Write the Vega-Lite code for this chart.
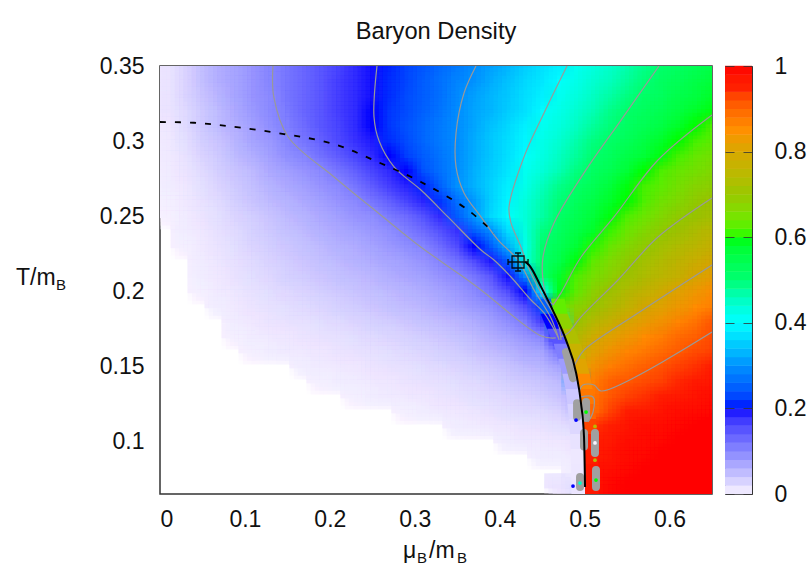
{"$schema":"https://vega.github.io/schema/vega-lite/v6.json","background":"white","padding":{"left":15,"top":19,"right":0,"bottom":0},"spacing":11,
"datasets":{"cells":[
{"x":0.01,"y":0.35,"v":0.01},{"x":0.03,"y":0.35,"v":0.025},{"x":0.05,"y":0.35,"v":0.045},{"x":0.07,"y":0.35,"v":0.06},{"x":0.09,"y":0.35,"v":0.07},{"x":0.11,"y":0.35,"v":0.085},{"x":0.13,"y":0.35,"v":0.1},{"x":0.15,"y":0.35,"v":0.115},{"x":0.17,"y":0.35,"v":0.13},{"x":0.19,"y":0.35,"v":0.145},{"x":0.21,"y":0.35,"v":0.16},{"x":0.23,"y":0.35,"v":0.18},{"x":0.25,"y":0.35,"v":0.195},{"x":0.27,"y":0.35,"v":0.21},{"x":0.29,"y":0.35,"v":0.23},{"x":0.31,"y":0.35,"v":0.245},{"x":0.33,"y":0.35,"v":0.265},{"x":0.35,"y":0.35,"v":0.28},{"x":0.37,"y":0.35,"v":0.3},{"x":0.39,"y":0.35,"v":0.315},{"x":0.41,"y":0.35,"v":0.335},{"x":0.43,"y":0.35,"v":0.355},{"x":0.45,"y":0.35,"v":0.375},{"x":0.47,"y":0.35,"v":0.39},{"x":0.49,"y":0.35,"v":0.41},{"x":0.51,"y":0.35,"v":0.43},{"x":0.53,"y":0.35,"v":0.445},{"x":0.55,"y":0.35,"v":0.465},{"x":0.57,"y":0.35,"v":0.485},{"x":0.59,"y":0.35,"v":0.5},{"x":0.61,"y":0.35,"v":0.52},{"x":0.63,"y":0.35,"v":0.535},{"x":0.65,"y":0.35,"v":0.55},
{"x":0.01,"y":0.34,"v":0.01},{"x":0.03,"y":0.34,"v":0.025},{"x":0.05,"y":0.34,"v":0.045},{"x":0.07,"y":0.34,"v":0.06},{"x":0.09,"y":0.34,"v":0.07},{"x":0.11,"y":0.34,"v":0.085},{"x":0.13,"y":0.34,"v":0.1},{"x":0.15,"y":0.34,"v":0.115},{"x":0.17,"y":0.34,"v":0.13},{"x":0.19,"y":0.34,"v":0.145},{"x":0.21,"y":0.34,"v":0.165},{"x":0.23,"y":0.34,"v":0.18},{"x":0.25,"y":0.34,"v":0.195},{"x":0.27,"y":0.34,"v":0.215},{"x":0.29,"y":0.34,"v":0.23},{"x":0.31,"y":0.34,"v":0.25},{"x":0.33,"y":0.34,"v":0.27},{"x":0.35,"y":0.34,"v":0.29},{"x":0.37,"y":0.34,"v":0.305},{"x":0.39,"y":0.34,"v":0.325},{"x":0.41,"y":0.34,"v":0.345},{"x":0.43,"y":0.34,"v":0.365},{"x":0.45,"y":0.34,"v":0.38},{"x":0.47,"y":0.34,"v":0.4},{"x":0.49,"y":0.34,"v":0.42},{"x":0.51,"y":0.34,"v":0.44},{"x":0.53,"y":0.34,"v":0.455},{"x":0.55,"y":0.34,"v":0.475},{"x":0.57,"y":0.34,"v":0.495},{"x":0.59,"y":0.34,"v":0.515},{"x":0.61,"y":0.34,"v":0.53},{"x":0.63,"y":0.34,"v":0.55},{"x":0.65,"y":0.34,"v":0.565},
{"x":0.01,"y":0.33,"v":0.01},{"x":0.03,"y":0.33,"v":0.025},{"x":0.05,"y":0.33,"v":0.04},{"x":0.07,"y":0.33,"v":0.055},{"x":0.09,"y":0.33,"v":0.07},{"x":0.11,"y":0.33,"v":0.085},{"x":0.13,"y":0.33,"v":0.095},{"x":0.15,"y":0.33,"v":0.115},{"x":0.17,"y":0.33,"v":0.13},{"x":0.19,"y":0.33,"v":0.145},{"x":0.21,"y":0.33,"v":0.165},{"x":0.23,"y":0.33,"v":0.18},{"x":0.25,"y":0.33,"v":0.195},{"x":0.27,"y":0.33,"v":0.215},{"x":0.29,"y":0.33,"v":0.235},{"x":0.31,"y":0.33,"v":0.25},{"x":0.33,"y":0.33,"v":0.27},{"x":0.35,"y":0.33,"v":0.295},{"x":0.37,"y":0.33,"v":0.315},{"x":0.39,"y":0.33,"v":0.335},{"x":0.41,"y":0.33,"v":0.35},{"x":0.43,"y":0.33,"v":0.37},{"x":0.45,"y":0.33,"v":0.39},{"x":0.47,"y":0.33,"v":0.41},{"x":0.49,"y":0.33,"v":0.43},{"x":0.51,"y":0.33,"v":0.45},{"x":0.53,"y":0.33,"v":0.47},{"x":0.55,"y":0.33,"v":0.49},{"x":0.57,"y":0.33,"v":0.51},{"x":0.59,"y":0.33,"v":0.525},{"x":0.61,"y":0.33,"v":0.545},{"x":0.63,"y":0.33,"v":0.56},{"x":0.65,"y":0.33,"v":0.58},
{"x":0.01,"y":0.32,"v":0.01},{"x":0.03,"y":0.32,"v":0.02},{"x":0.05,"y":0.32,"v":0.035},{"x":0.07,"y":0.32,"v":0.05},{"x":0.09,"y":0.32,"v":0.065},{"x":0.11,"y":0.32,"v":0.08},{"x":0.13,"y":0.32,"v":0.095},{"x":0.15,"y":0.32,"v":0.11},{"x":0.17,"y":0.32,"v":0.13},{"x":0.19,"y":0.32,"v":0.145},{"x":0.21,"y":0.32,"v":0.165},{"x":0.23,"y":0.32,"v":0.18},{"x":0.25,"y":0.32,"v":0.2},{"x":0.27,"y":0.32,"v":0.22},{"x":0.29,"y":0.32,"v":0.235},{"x":0.31,"y":0.32,"v":0.255},{"x":0.33,"y":0.32,"v":0.275},{"x":0.35,"y":0.32,"v":0.3},{"x":0.37,"y":0.32,"v":0.32},{"x":0.39,"y":0.32,"v":0.335},{"x":0.41,"y":0.32,"v":0.355},{"x":0.43,"y":0.32,"v":0.375},{"x":0.45,"y":0.32,"v":0.4},{"x":0.47,"y":0.32,"v":0.42},{"x":0.49,"y":0.32,"v":0.44},{"x":0.51,"y":0.32,"v":0.46},{"x":0.53,"y":0.32,"v":0.485},{"x":0.55,"y":0.32,"v":0.505},{"x":0.57,"y":0.32,"v":0.525},{"x":0.59,"y":0.32,"v":0.54},{"x":0.61,"y":0.32,"v":0.56},{"x":0.63,"y":0.32,"v":0.58},{"x":0.65,"y":0.32,"v":0.595},
{"x":0.01,"y":0.31,"v":0.008},{"x":0.03,"y":0.31,"v":0.02},{"x":0.05,"y":0.31,"v":0.035},{"x":0.07,"y":0.31,"v":0.05},{"x":0.09,"y":0.31,"v":0.06},{"x":0.11,"y":0.31,"v":0.075},{"x":0.13,"y":0.31,"v":0.09},{"x":0.15,"y":0.31,"v":0.105},{"x":0.17,"y":0.31,"v":0.125},{"x":0.19,"y":0.31,"v":0.145},{"x":0.21,"y":0.31,"v":0.16},{"x":0.23,"y":0.31,"v":0.18},{"x":0.25,"y":0.31,"v":0.2},{"x":0.27,"y":0.31,"v":0.22},{"x":0.29,"y":0.31,"v":0.24},{"x":0.31,"y":0.31,"v":0.26},{"x":0.33,"y":0.31,"v":0.28},{"x":0.35,"y":0.31,"v":0.3},{"x":0.37,"y":0.31,"v":0.32},{"x":0.39,"y":0.31,"v":0.345},{"x":0.41,"y":0.31,"v":0.365},{"x":0.43,"y":0.31,"v":0.39},{"x":0.45,"y":0.31,"v":0.41},{"x":0.47,"y":0.31,"v":0.43},{"x":0.49,"y":0.31,"v":0.45},{"x":0.51,"y":0.31,"v":0.475},{"x":0.53,"y":0.31,"v":0.495},{"x":0.55,"y":0.31,"v":0.515},{"x":0.57,"y":0.31,"v":0.535},{"x":0.59,"y":0.31,"v":0.555},{"x":0.61,"y":0.31,"v":0.58},{"x":0.63,"y":0.31,"v":0.6},{"x":0.65,"y":0.31,"v":0.62},
{"x":0.01,"y":0.3,"v":0.006},{"x":0.03,"y":0.3,"v":0.015},{"x":0.05,"y":0.3,"v":0.03},{"x":0.07,"y":0.3,"v":0.04},{"x":0.09,"y":0.3,"v":0.055},{"x":0.11,"y":0.3,"v":0.07},{"x":0.13,"y":0.3,"v":0.08},{"x":0.15,"y":0.3,"v":0.1},{"x":0.17,"y":0.3,"v":0.115},{"x":0.19,"y":0.3,"v":0.135},{"x":0.21,"y":0.3,"v":0.155},{"x":0.23,"y":0.3,"v":0.175},{"x":0.25,"y":0.3,"v":0.19},{"x":0.27,"y":0.3,"v":0.215},{"x":0.29,"y":0.3,"v":0.235},{"x":0.31,"y":0.3,"v":0.26},{"x":0.33,"y":0.3,"v":0.28},{"x":0.35,"y":0.3,"v":0.3},{"x":0.37,"y":0.3,"v":0.325},{"x":0.39,"y":0.3,"v":0.35},{"x":0.41,"y":0.3,"v":0.37},{"x":0.43,"y":0.3,"v":0.395},{"x":0.45,"y":0.3,"v":0.42},{"x":0.47,"y":0.3,"v":0.44},{"x":0.49,"y":0.3,"v":0.465},{"x":0.51,"y":0.3,"v":0.49},{"x":0.53,"y":0.3,"v":0.51},{"x":0.55,"y":0.3,"v":0.53},{"x":0.57,"y":0.3,"v":0.555},{"x":0.59,"y":0.3,"v":0.58},{"x":0.61,"y":0.3,"v":0.6},{"x":0.63,"y":0.3,"v":0.615},{"x":0.65,"y":0.3,"v":0.63},
{"x":0.01,"y":0.29,"v":0.005},{"x":0.03,"y":0.29,"v":0.012},{"x":0.05,"y":0.29,"v":0.025},{"x":0.07,"y":0.29,"v":0.035},{"x":0.09,"y":0.29,"v":0.05},{"x":0.11,"y":0.29,"v":0.06},{"x":0.13,"y":0.29,"v":0.075},{"x":0.15,"y":0.29,"v":0.09},{"x":0.17,"y":0.29,"v":0.1},{"x":0.19,"y":0.29,"v":0.12},{"x":0.21,"y":0.29,"v":0.14},{"x":0.23,"y":0.29,"v":0.16},{"x":0.25,"y":0.29,"v":0.18},{"x":0.27,"y":0.29,"v":0.2},{"x":0.29,"y":0.29,"v":0.225},{"x":0.31,"y":0.29,"v":0.25},{"x":0.33,"y":0.29,"v":0.275},{"x":0.35,"y":0.29,"v":0.3},{"x":0.37,"y":0.29,"v":0.325},{"x":0.39,"y":0.29,"v":0.35},{"x":0.41,"y":0.29,"v":0.375},{"x":0.43,"y":0.29,"v":0.4},{"x":0.45,"y":0.29,"v":0.425},{"x":0.47,"y":0.29,"v":0.45},{"x":0.49,"y":0.29,"v":0.475},{"x":0.51,"y":0.29,"v":0.5},{"x":0.53,"y":0.29,"v":0.525},{"x":0.55,"y":0.29,"v":0.55},{"x":0.57,"y":0.29,"v":0.57},{"x":0.59,"y":0.29,"v":0.595},{"x":0.61,"y":0.29,"v":0.615},{"x":0.63,"y":0.29,"v":0.635},{"x":0.65,"y":0.29,"v":0.65},
{"x":0.01,"y":0.28,"v":0.004},{"x":0.03,"y":0.28,"v":0.01},{"x":0.05,"y":0.28,"v":0.02},{"x":0.07,"y":0.28,"v":0.03},{"x":0.09,"y":0.28,"v":0.04},{"x":0.11,"y":0.28,"v":0.05},{"x":0.13,"y":0.28,"v":0.065},{"x":0.15,"y":0.28,"v":0.075},{"x":0.17,"y":0.28,"v":0.085},{"x":0.19,"y":0.28,"v":0.095},{"x":0.21,"y":0.28,"v":0.115},{"x":0.23,"y":0.28,"v":0.135},{"x":0.25,"y":0.28,"v":0.16},{"x":0.27,"y":0.28,"v":0.18},{"x":0.29,"y":0.28,"v":0.2},{"x":0.31,"y":0.28,"v":0.24},{"x":0.33,"y":0.28,"v":0.27},{"x":0.35,"y":0.28,"v":0.3},{"x":0.37,"y":0.28,"v":0.33},{"x":0.39,"y":0.28,"v":0.355},{"x":0.41,"y":0.28,"v":0.38},{"x":0.43,"y":0.28,"v":0.41},{"x":0.45,"y":0.28,"v":0.435},{"x":0.47,"y":0.28,"v":0.46},{"x":0.49,"y":0.28,"v":0.49},{"x":0.51,"y":0.28,"v":0.515},{"x":0.53,"y":0.28,"v":0.54},{"x":0.55,"y":0.28,"v":0.57},{"x":0.57,"y":0.28,"v":0.6},{"x":0.59,"y":0.28,"v":0.62},{"x":0.61,"y":0.28,"v":0.635},{"x":0.63,"y":0.28,"v":0.65},{"x":0.65,"y":0.28,"v":0.665},
{"x":0.01,"y":0.27,"v":0.003},{"x":0.03,"y":0.27,"v":0.008},{"x":0.05,"y":0.27,"v":0.015},{"x":0.07,"y":0.27,"v":0.025},{"x":0.09,"y":0.27,"v":0.035},{"x":0.11,"y":0.27,"v":0.045},{"x":0.13,"y":0.27,"v":0.055},{"x":0.15,"y":0.27,"v":0.065},{"x":0.17,"y":0.27,"v":0.075},{"x":0.19,"y":0.27,"v":0.085},{"x":0.21,"y":0.27,"v":0.095},{"x":0.23,"y":0.27,"v":0.115},{"x":0.25,"y":0.27,"v":0.14},{"x":0.27,"y":0.27,"v":0.165},{"x":0.29,"y":0.27,"v":0.185},{"x":0.31,"y":0.27,"v":0.21},{"x":0.33,"y":0.27,"v":0.255},{"x":0.35,"y":0.27,"v":0.305},{"x":0.37,"y":0.27,"v":0.33},{"x":0.39,"y":0.27,"v":0.36},{"x":0.41,"y":0.27,"v":0.39},{"x":0.43,"y":0.27,"v":0.42},{"x":0.45,"y":0.27,"v":0.455},{"x":0.47,"y":0.27,"v":0.485},{"x":0.49,"y":0.27,"v":0.51},{"x":0.51,"y":0.27,"v":0.535},{"x":0.53,"y":0.27,"v":0.565},{"x":0.55,"y":0.27,"v":0.595},{"x":0.57,"y":0.27,"v":0.615},{"x":0.59,"y":0.27,"v":0.63},{"x":0.61,"y":0.27,"v":0.65},{"x":0.63,"y":0.27,"v":0.67},{"x":0.65,"y":0.27,"v":0.685},
{"x":0.01,"y":0.26,"v":0.002},{"x":0.03,"y":0.26,"v":0.006},{"x":0.05,"y":0.26,"v":0.012},{"x":0.07,"y":0.26,"v":0.02},{"x":0.09,"y":0.26,"v":0.03},{"x":0.11,"y":0.26,"v":0.04},{"x":0.13,"y":0.26,"v":0.05},{"x":0.15,"y":0.26,"v":0.055},{"x":0.17,"y":0.26,"v":0.065},{"x":0.19,"y":0.26,"v":0.075},{"x":0.21,"y":0.26,"v":0.085},{"x":0.23,"y":0.26,"v":0.095},{"x":0.25,"y":0.26,"v":0.115},{"x":0.27,"y":0.26,"v":0.135},{"x":0.29,"y":0.26,"v":0.16},{"x":0.31,"y":0.26,"v":0.185},{"x":0.33,"y":0.26,"v":0.22},{"x":0.35,"y":0.26,"v":0.27},{"x":0.37,"y":0.26,"v":0.31},{"x":0.39,"y":0.26,"v":0.36},{"x":0.41,"y":0.26,"v":0.395},{"x":0.43,"y":0.26,"v":0.43},{"x":0.45,"y":0.26,"v":0.465},{"x":0.47,"y":0.26,"v":0.495},{"x":0.49,"y":0.26,"v":0.525},{"x":0.51,"y":0.26,"v":0.55},{"x":0.53,"y":0.26,"v":0.58},{"x":0.55,"y":0.26,"v":0.6},{"x":0.57,"y":0.26,"v":0.62},{"x":0.59,"y":0.26,"v":0.645},{"x":0.61,"y":0.26,"v":0.665},{"x":0.63,"y":0.26,"v":0.69},{"x":0.65,"y":0.26,"v":0.71},
{"x":0.01,"y":0.25,"v":0.001},{"x":0.03,"y":0.25,"v":0.004},{"x":0.05,"y":0.25,"v":0.01},{"x":0.07,"y":0.25,"v":0.016},{"x":0.09,"y":0.25,"v":0.024},{"x":0.11,"y":0.25,"v":0.032},{"x":0.13,"y":0.25,"v":0.04},{"x":0.15,"y":0.25,"v":0.05},{"x":0.17,"y":0.25,"v":0.055},{"x":0.19,"y":0.25,"v":0.065},{"x":0.21,"y":0.25,"v":0.075},{"x":0.23,"y":0.25,"v":0.085},{"x":0.25,"y":0.25,"v":0.09},{"x":0.27,"y":0.25,"v":0.11},{"x":0.29,"y":0.25,"v":0.125},{"x":0.31,"y":0.25,"v":0.15},{"x":0.33,"y":0.25,"v":0.18},{"x":0.35,"y":0.25,"v":0.25},{"x":0.37,"y":0.25,"v":0.31},{"x":0.39,"y":0.25,"v":0.365},{"x":0.41,"y":0.25,"v":0.4},{"x":0.43,"y":0.25,"v":0.435},{"x":0.45,"y":0.25,"v":0.47},{"x":0.47,"y":0.25,"v":0.51},{"x":0.49,"y":0.25,"v":0.54},{"x":0.51,"y":0.25,"v":0.565},{"x":0.53,"y":0.25,"v":0.595},{"x":0.55,"y":0.25,"v":0.62},{"x":0.57,"y":0.25,"v":0.64},{"x":0.59,"y":0.25,"v":0.665},{"x":0.61,"y":0.25,"v":0.69},{"x":0.63,"y":0.25,"v":0.705},{"x":0.65,"y":0.25,"v":0.72},
{"x":0.03,"y":0.24,"v":0.003},{"x":0.05,"y":0.24,"v":0.008},{"x":0.07,"y":0.24,"v":0.014},{"x":0.09,"y":0.24,"v":0.02},{"x":0.11,"y":0.24,"v":0.028},{"x":0.13,"y":0.24,"v":0.035},{"x":0.15,"y":0.24,"v":0.042},{"x":0.17,"y":0.24,"v":0.05},{"x":0.19,"y":0.24,"v":0.057},{"x":0.21,"y":0.24,"v":0.065},{"x":0.23,"y":0.24,"v":0.072},{"x":0.25,"y":0.24,"v":0.08},{"x":0.27,"y":0.24,"v":0.09},{"x":0.29,"y":0.24,"v":0.105},{"x":0.31,"y":0.24,"v":0.125},{"x":0.33,"y":0.24,"v":0.15},{"x":0.35,"y":0.24,"v":0.175},{"x":0.37,"y":0.24,"v":0.25},{"x":0.39,"y":0.24,"v":0.3},{"x":0.41,"y":0.24,"v":0.37},{"x":0.43,"y":0.24,"v":0.43},{"x":0.45,"y":0.24,"v":0.49},{"x":0.47,"y":0.24,"v":0.52},{"x":0.49,"y":0.24,"v":0.55},{"x":0.51,"y":0.24,"v":0.58},{"x":0.53,"y":0.24,"v":0.61},{"x":0.55,"y":0.24,"v":0.64},{"x":0.57,"y":0.24,"v":0.665},{"x":0.59,"y":0.24,"v":0.69},{"x":0.61,"y":0.24,"v":0.71},{"x":0.63,"y":0.24,"v":0.73},{"x":0.65,"y":0.24,"v":0.75},
{"x":0.03,"y":0.23,"v":0.002},{"x":0.05,"y":0.23,"v":0.006},{"x":0.07,"y":0.23,"v":0.011},{"x":0.09,"y":0.23,"v":0.017},{"x":0.11,"y":0.23,"v":0.024},{"x":0.13,"y":0.23,"v":0.03},{"x":0.15,"y":0.23,"v":0.037},{"x":0.17,"y":0.23,"v":0.043},{"x":0.19,"y":0.23,"v":0.05},{"x":0.21,"y":0.23,"v":0.057},{"x":0.23,"y":0.23,"v":0.063},{"x":0.25,"y":0.23,"v":0.07},{"x":0.27,"y":0.23,"v":0.08},{"x":0.29,"y":0.23,"v":0.09},{"x":0.31,"y":0.23,"v":0.1},{"x":0.33,"y":0.23,"v":0.125},{"x":0.35,"y":0.23,"v":0.155},{"x":0.37,"y":0.23,"v":0.2},{"x":0.39,"y":0.23,"v":0.25},{"x":0.41,"y":0.23,"v":0.33},{"x":0.43,"y":0.23,"v":0.42},{"x":0.45,"y":0.23,"v":0.5},{"x":0.47,"y":0.23,"v":0.535},{"x":0.49,"y":0.23,"v":0.57},{"x":0.51,"y":0.23,"v":0.605},{"x":0.53,"y":0.23,"v":0.635},{"x":0.55,"y":0.23,"v":0.665},{"x":0.57,"y":0.23,"v":0.69},{"x":0.59,"y":0.23,"v":0.715},{"x":0.61,"y":0.23,"v":0.735},{"x":0.63,"y":0.23,"v":0.75},{"x":0.65,"y":0.23,"v":0.77},
{"x":0.05,"y":0.22,"v":0.004},{"x":0.07,"y":0.22,"v":0.009},{"x":0.09,"y":0.22,"v":0.014},{"x":0.11,"y":0.22,"v":0.02},{"x":0.13,"y":0.22,"v":0.026},{"x":0.15,"y":0.22,"v":0.032},{"x":0.17,"y":0.22,"v":0.038},{"x":0.19,"y":0.22,"v":0.044},{"x":0.21,"y":0.22,"v":0.05},{"x":0.23,"y":0.22,"v":0.056},{"x":0.25,"y":0.22,"v":0.062},{"x":0.27,"y":0.22,"v":0.068},{"x":0.29,"y":0.22,"v":0.076},{"x":0.31,"y":0.22,"v":0.085},{"x":0.33,"y":0.22,"v":0.1},{"x":0.35,"y":0.22,"v":0.12},{"x":0.37,"y":0.22,"v":0.155},{"x":0.39,"y":0.22,"v":0.19},{"x":0.41,"y":0.22,"v":0.25},{"x":0.43,"y":0.22,"v":0.43},{"x":0.45,"y":0.22,"v":0.5},{"x":0.47,"y":0.22,"v":0.545},{"x":0.49,"y":0.22,"v":0.595},{"x":0.51,"y":0.22,"v":0.63},{"x":0.53,"y":0.22,"v":0.66},{"x":0.55,"y":0.22,"v":0.69},{"x":0.57,"y":0.22,"v":0.715},{"x":0.59,"y":0.22,"v":0.735},{"x":0.61,"y":0.22,"v":0.755},{"x":0.63,"y":0.22,"v":0.775},{"x":0.65,"y":0.22,"v":0.795},
{"x":0.05,"y":0.21,"v":0.003},{"x":0.07,"y":0.21,"v":0.007},{"x":0.09,"y":0.21,"v":0.012},{"x":0.11,"y":0.21,"v":0.017},{"x":0.13,"y":0.21,"v":0.022},{"x":0.15,"y":0.21,"v":0.028},{"x":0.17,"y":0.21,"v":0.033},{"x":0.19,"y":0.21,"v":0.038},{"x":0.21,"y":0.21,"v":0.043},{"x":0.23,"y":0.21,"v":0.048},{"x":0.25,"y":0.21,"v":0.053},{"x":0.27,"y":0.21,"v":0.06},{"x":0.29,"y":0.21,"v":0.067},{"x":0.31,"y":0.21,"v":0.074},{"x":0.33,"y":0.21,"v":0.085},{"x":0.35,"y":0.21,"v":0.095},{"x":0.37,"y":0.21,"v":0.115},{"x":0.39,"y":0.21,"v":0.145},{"x":0.41,"y":0.21,"v":0.195},{"x":0.43,"y":0.21,"v":0.3},{"x":0.45,"y":0.21,"v":0.5},{"x":0.47,"y":0.21,"v":0.58},{"x":0.49,"y":0.21,"v":0.62},{"x":0.51,"y":0.21,"v":0.65},{"x":0.53,"y":0.21,"v":0.68},{"x":0.55,"y":0.21,"v":0.71},{"x":0.57,"y":0.21,"v":0.73},{"x":0.59,"y":0.21,"v":0.75},{"x":0.61,"y":0.21,"v":0.77},{"x":0.63,"y":0.21,"v":0.8},{"x":0.65,"y":0.21,"v":0.82},
{"x":0.05,"y":0.2,"v":0.002},{"x":0.07,"y":0.2,"v":0.005},{"x":0.09,"y":0.2,"v":0.009},{"x":0.11,"y":0.2,"v":0.013},{"x":0.13,"y":0.2,"v":0.017},{"x":0.15,"y":0.2,"v":0.021},{"x":0.17,"y":0.2,"v":0.025},{"x":0.19,"y":0.2,"v":0.03},{"x":0.21,"y":0.2,"v":0.035},{"x":0.23,"y":0.2,"v":0.04},{"x":0.25,"y":0.2,"v":0.045},{"x":0.27,"y":0.2,"v":0.05},{"x":0.29,"y":0.2,"v":0.055},{"x":0.31,"y":0.2,"v":0.062},{"x":0.33,"y":0.2,"v":0.07},{"x":0.35,"y":0.2,"v":0.08},{"x":0.37,"y":0.2,"v":0.095},{"x":0.39,"y":0.2,"v":0.12},{"x":0.41,"y":0.2,"v":0.155},{"x":0.43,"y":0.2,"v":0.2},{"x":0.45,"y":0.2,"v":0.4},{"x":0.47,"y":0.2,"v":0.59},{"x":0.49,"y":0.2,"v":0.63},{"x":0.51,"y":0.2,"v":0.68},{"x":0.53,"y":0.2,"v":0.71},{"x":0.55,"y":0.2,"v":0.74},{"x":0.57,"y":0.2,"v":0.76},{"x":0.59,"y":0.2,"v":0.785},{"x":0.61,"y":0.2,"v":0.81},{"x":0.63,"y":0.2,"v":0.83},{"x":0.65,"y":0.2,"v":0.85},
{"x":0.07,"y":0.19,"v":0.003},{"x":0.09,"y":0.19,"v":0.006},{"x":0.11,"y":0.19,"v":0.01},{"x":0.13,"y":0.19,"v":0.013},{"x":0.15,"y":0.19,"v":0.016},{"x":0.17,"y":0.19,"v":0.02},{"x":0.19,"y":0.19,"v":0.023},{"x":0.21,"y":0.19,"v":0.028},{"x":0.23,"y":0.19,"v":0.033},{"x":0.25,"y":0.19,"v":0.038},{"x":0.27,"y":0.19,"v":0.043},{"x":0.29,"y":0.19,"v":0.048},{"x":0.31,"y":0.19,"v":0.053},{"x":0.33,"y":0.19,"v":0.06},{"x":0.35,"y":0.19,"v":0.07},{"x":0.37,"y":0.19,"v":0.08},{"x":0.39,"y":0.19,"v":0.092},{"x":0.41,"y":0.19,"v":0.115},{"x":0.43,"y":0.19,"v":0.155},{"x":0.45,"y":0.19,"v":0.22},{"x":0.47,"y":0.19,"v":0.63},{"x":0.49,"y":0.19,"v":0.67},{"x":0.51,"y":0.19,"v":0.7},{"x":0.53,"y":0.19,"v":0.73},{"x":0.55,"y":0.19,"v":0.76},{"x":0.57,"y":0.19,"v":0.79},{"x":0.59,"y":0.19,"v":0.81},{"x":0.61,"y":0.19,"v":0.83},{"x":0.63,"y":0.19,"v":0.85},{"x":0.65,"y":0.19,"v":0.865},
{"x":0.09,"y":0.18,"v":0.004},{"x":0.11,"y":0.18,"v":0.007},{"x":0.13,"y":0.18,"v":0.01},{"x":0.15,"y":0.18,"v":0.012},{"x":0.17,"y":0.18,"v":0.014},{"x":0.19,"y":0.18,"v":0.017},{"x":0.21,"y":0.18,"v":0.02},{"x":0.23,"y":0.18,"v":0.024},{"x":0.25,"y":0.18,"v":0.028},{"x":0.27,"y":0.18,"v":0.032},{"x":0.29,"y":0.18,"v":0.037},{"x":0.31,"y":0.18,"v":0.042},{"x":0.33,"y":0.18,"v":0.047},{"x":0.35,"y":0.18,"v":0.054},{"x":0.37,"y":0.18,"v":0.062},{"x":0.39,"y":0.18,"v":0.075},{"x":0.41,"y":0.18,"v":0.09},{"x":0.43,"y":0.18,"v":0.11},{"x":0.45,"y":0.18,"v":0.17},{"x":0.47,"y":0.18,"v":0.45},{"x":0.49,"y":0.18,"v":0.7},{"x":0.51,"y":0.18,"v":0.74},{"x":0.53,"y":0.18,"v":0.77},{"x":0.55,"y":0.18,"v":0.8},{"x":0.57,"y":0.18,"v":0.82},{"x":0.59,"y":0.18,"v":0.84},{"x":0.61,"y":0.18,"v":0.86},{"x":0.63,"y":0.18,"v":0.88},{"x":0.65,"y":0.18,"v":0.91},
{"x":0.09,"y":0.17,"v":0.002},{"x":0.11,"y":0.17,"v":0.004},{"x":0.13,"y":0.17,"v":0.006},{"x":0.15,"y":0.17,"v":0.008},{"x":0.17,"y":0.17,"v":0.01},{"x":0.19,"y":0.17,"v":0.012},{"x":0.21,"y":0.17,"v":0.014},{"x":0.23,"y":0.17,"v":0.017},{"x":0.25,"y":0.17,"v":0.02},{"x":0.27,"y":0.17,"v":0.023},{"x":0.29,"y":0.17,"v":0.027},{"x":0.31,"y":0.17,"v":0.032},{"x":0.33,"y":0.17,"v":0.037},{"x":0.35,"y":0.17,"v":0.042},{"x":0.37,"y":0.17,"v":0.05},{"x":0.39,"y":0.17,"v":0.06},{"x":0.41,"y":0.17,"v":0.07},{"x":0.43,"y":0.17,"v":0.085},{"x":0.45,"y":0.17,"v":0.1},{"x":0.47,"y":0.17,"v":0.2},{"x":0.49,"y":0.17,"v":0.74},{"x":0.51,"y":0.17,"v":0.78},{"x":0.53,"y":0.17,"v":0.81},{"x":0.55,"y":0.17,"v":0.83},{"x":0.57,"y":0.17,"v":0.85},{"x":0.59,"y":0.17,"v":0.87},{"x":0.61,"y":0.17,"v":0.89},{"x":0.63,"y":0.17,"v":0.9},{"x":0.65,"y":0.17,"v":0.92},
{"x":0.11,"y":0.16,"v":0.002},{"x":0.13,"y":0.16,"v":0.003},{"x":0.15,"y":0.16,"v":0.005},{"x":0.17,"y":0.16,"v":0.006},{"x":0.19,"y":0.16,"v":0.008},{"x":0.21,"y":0.16,"v":0.01},{"x":0.23,"y":0.16,"v":0.012},{"x":0.25,"y":0.16,"v":0.014},{"x":0.27,"y":0.16,"v":0.016},{"x":0.29,"y":0.16,"v":0.02},{"x":0.31,"y":0.16,"v":0.023},{"x":0.33,"y":0.16,"v":0.028},{"x":0.35,"y":0.16,"v":0.033},{"x":0.37,"y":0.16,"v":0.04},{"x":0.39,"y":0.16,"v":0.047},{"x":0.41,"y":0.16,"v":0.055},{"x":0.43,"y":0.16,"v":0.065},{"x":0.45,"y":0.16,"v":0.07},{"x":0.47,"y":0.16,"v":0.12},{"x":0.49,"y":0.16,"v":0.76},{"x":0.51,"y":0.16,"v":0.81},{"x":0.53,"y":0.16,"v":0.84},{"x":0.55,"y":0.16,"v":0.86},{"x":0.57,"y":0.16,"v":0.875},{"x":0.59,"y":0.16,"v":0.89},{"x":0.61,"y":0.16,"v":0.905},{"x":0.63,"y":0.16,"v":0.92},{"x":0.65,"y":0.16,"v":0.93},
{"x":0.17,"y":0.15,"v":0.003},{"x":0.19,"y":0.15,"v":0.005},{"x":0.21,"y":0.15,"v":0.006},{"x":0.23,"y":0.15,"v":0.008},{"x":0.25,"y":0.15,"v":0.01},{"x":0.27,"y":0.15,"v":0.012},{"x":0.29,"y":0.15,"v":0.014},{"x":0.31,"y":0.15,"v":0.017},{"x":0.33,"y":0.15,"v":0.02},{"x":0.35,"y":0.15,"v":0.024},{"x":0.37,"y":0.15,"v":0.028},{"x":0.39,"y":0.15,"v":0.034},{"x":0.41,"y":0.15,"v":0.04},{"x":0.43,"y":0.15,"v":0.05},{"x":0.45,"y":0.15,"v":0.055},{"x":0.47,"y":0.15,"v":0.07},{"x":0.49,"y":0.15,"v":0.8},{"x":0.51,"y":0.15,"v":0.84},{"x":0.53,"y":0.15,"v":0.87},{"x":0.55,"y":0.15,"v":0.885},{"x":0.57,"y":0.15,"v":0.9},{"x":0.59,"y":0.15,"v":0.915},{"x":0.61,"y":0.15,"v":0.93},{"x":0.63,"y":0.15,"v":0.94},{"x":0.65,"y":0.15,"v":0.95},
{"x":0.19,"y":0.14,"v":0.002},{"x":0.21,"y":0.14,"v":0.003},{"x":0.23,"y":0.14,"v":0.004},{"x":0.25,"y":0.14,"v":0.006},{"x":0.27,"y":0.14,"v":0.008},{"x":0.29,"y":0.14,"v":0.01},{"x":0.31,"y":0.14,"v":0.012},{"x":0.33,"y":0.14,"v":0.014},{"x":0.35,"y":0.14,"v":0.017},{"x":0.37,"y":0.14,"v":0.02},{"x":0.39,"y":0.14,"v":0.024},{"x":0.41,"y":0.14,"v":0.03},{"x":0.43,"y":0.14,"v":0.035},{"x":0.45,"y":0.14,"v":0.04},{"x":0.47,"y":0.14,"v":0.05},{"x":0.49,"y":0.14,"v":0.3},{"x":0.51,"y":0.14,"v":0.87},{"x":0.53,"y":0.14,"v":0.9},{"x":0.55,"y":0.14,"v":0.91},{"x":0.57,"y":0.14,"v":0.92},{"x":0.59,"y":0.14,"v":0.93},{"x":0.61,"y":0.14,"v":0.945},{"x":0.63,"y":0.14,"v":0.955},{"x":0.65,"y":0.14,"v":0.965},
{"x":0.23,"y":0.13,"v":0.002},{"x":0.25,"y":0.13,"v":0.003},{"x":0.27,"y":0.13,"v":0.005},{"x":0.29,"y":0.13,"v":0.006},{"x":0.31,"y":0.13,"v":0.008},{"x":0.33,"y":0.13,"v":0.01},{"x":0.35,"y":0.13,"v":0.012},{"x":0.37,"y":0.13,"v":0.015},{"x":0.39,"y":0.13,"v":0.018},{"x":0.41,"y":0.13,"v":0.022},{"x":0.43,"y":0.13,"v":0.025},{"x":0.45,"y":0.13,"v":0.03},{"x":0.47,"y":0.13,"v":0.04},{"x":0.49,"y":0.13,"v":0.06},{"x":0.51,"y":0.13,"v":0.88},{"x":0.53,"y":0.13,"v":0.91},{"x":0.55,"y":0.13,"v":0.93},{"x":0.57,"y":0.13,"v":0.94},{"x":0.59,"y":0.13,"v":0.95},{"x":0.61,"y":0.13,"v":0.96},{"x":0.63,"y":0.13,"v":0.97},{"x":0.65,"y":0.13,"v":0.98},
{"x":0.29,"y":0.12,"v":0.002},{"x":0.31,"y":0.12,"v":0.003},{"x":0.33,"y":0.12,"v":0.005},{"x":0.35,"y":0.12,"v":0.007},{"x":0.37,"y":0.12,"v":0.009},{"x":0.39,"y":0.12,"v":0.012},{"x":0.41,"y":0.12,"v":0.015},{"x":0.43,"y":0.12,"v":0.018},{"x":0.45,"y":0.12,"v":0.02},{"x":0.47,"y":0.12,"v":0.025},{"x":0.49,"y":0.12,"v":0.05},{"x":0.51,"y":0.12,"v":0.88},{"x":0.53,"y":0.12,"v":0.93},{"x":0.55,"y":0.12,"v":0.95},{"x":0.57,"y":0.12,"v":0.96},{"x":0.59,"y":0.12,"v":0.97},{"x":0.61,"y":0.12,"v":0.98},{"x":0.63,"y":0.12,"v":0.985},{"x":0.65,"y":0.12,"v":0.99},
{"x":0.35,"y":0.11,"v":0.003},{"x":0.37,"y":0.11,"v":0.004},{"x":0.39,"y":0.11,"v":0.006},{"x":0.41,"y":0.11,"v":0.008},{"x":0.43,"y":0.11,"v":0.01},{"x":0.45,"y":0.11,"v":0.012},{"x":0.47,"y":0.11,"v":0.015},{"x":0.49,"y":0.11,"v":0.02},{"x":0.51,"y":0.11,"v":0.94},{"x":0.53,"y":0.11,"v":0.95},{"x":0.55,"y":0.11,"v":0.97},{"x":0.57,"y":0.11,"v":0.98},{"x":0.59,"y":0.11,"v":0.985},{"x":0.61,"y":0.11,"v":0.99},{"x":0.63,"y":0.11,"v":0.995},{"x":0.65,"y":0.11,"v":1},
{"x":0.41,"y":0.1,"v":0.003},{"x":0.43,"y":0.1,"v":0.005},{"x":0.45,"y":0.1,"v":0.006},{"x":0.47,"y":0.1,"v":0.007},{"x":0.49,"y":0.1,"v":0.01},{"x":0.51,"y":0.1,"v":0.95},{"x":0.53,"y":0.1,"v":0.96},{"x":0.55,"y":0.1,"v":0.98},{"x":0.57,"y":0.1,"v":0.985},{"x":0.59,"y":0.1,"v":0.99},{"x":0.61,"y":0.1,"v":0.995},{"x":0.63,"y":0.1,"v":1},{"x":0.65,"y":0.1,"v":1},
{"x":0.45,"y":0.09,"v":0.003},{"x":0.47,"y":0.09,"v":0.003},{"x":0.49,"y":0.09,"v":0.005},{"x":0.51,"y":0.09,"v":0.96},{"x":0.53,"y":0.09,"v":0.97},{"x":0.55,"y":0.09,"v":0.985},{"x":0.57,"y":0.09,"v":0.99},{"x":0.59,"y":0.09,"v":0.995},{"x":0.61,"y":0.09,"v":1},{"x":0.63,"y":0.09,"v":1},{"x":0.65,"y":0.09,"v":1},
{"x":0.49,"y":0.08,"v":0.003},{"x":0.51,"y":0.08,"v":0.97},{"x":0.53,"y":0.08,"v":0.98},{"x":0.55,"y":0.08,"v":0.99},{"x":0.57,"y":0.08,"v":0.995},{"x":0.59,"y":0.08,"v":1},{"x":0.61,"y":0.08,"v":1},{"x":0.63,"y":0.08,"v":1},{"x":0.65,"y":0.08,"v":1},
{"x":0.47,"y":0.07,"v":0.01},{"x":0.49,"y":0.07,"v":0.02},{"x":0.51,"y":0.07,"v":0.97},{"x":0.53,"y":0.07,"v":0.99},{"x":0.55,"y":0.07,"v":0.995},{"x":0.57,"y":0.07,"v":1},{"x":0.59,"y":0.07,"v":1},{"x":0.61,"y":0.07,"v":1},{"x":0.63,"y":0.07,"v":1},{"x":0.65,"y":0.07,"v":1},
{"x":0.51,"y":0.06,"v":0.97},{"x":0.53,"y":0.06,"v":0.99},{"x":0.55,"y":0.06,"v":0.995},{"x":0.57,"y":0.06,"v":1},{"x":0.59,"y":0.06,"v":1},{"x":0.61,"y":0.06,"v":1},{"x":0.63,"y":0.06,"v":1},{"x":0.65,"y":0.06,"v":1}
],
"strips":[
{"k":"L1","o":1,"x":0.4444,"y":0.195,"v":0.25},{"k":"L1","o":2,"x":0.4604,"y":0.195,"v":0.25},{"k":"L1","o":3,"x":0.464,"y":0.1845,"v":0.25},{"k":"L1","o":4,"x":0.448,"y":0.1845,"v":0.25},
{"k":"L2","o":1,"x":0.448,"y":0.185,"v":0.2},{"k":"L2","o":2,"x":0.464,"y":0.185,"v":0.2},{"k":"L2","o":3,"x":0.472,"y":0.1745,"v":0.2},{"k":"L2","o":4,"x":0.456,"y":0.1745,"v":0.2},
{"k":"L3","o":1,"x":0.456,"y":0.175,"v":0.15},{"k":"L3","o":2,"x":0.472,"y":0.175,"v":0.15},{"k":"L3","o":3,"x":0.4795,"y":0.1645,"v":0.15},{"k":"L3","o":4,"x":0.4635,"y":0.1645,"v":0.15},
{"k":"L4","o":1,"x":0.4635,"y":0.165,"v":0.11},{"k":"L4","o":2,"x":0.4795,"y":0.165,"v":0.11},{"k":"L4","o":3,"x":0.485,"y":0.1545,"v":0.11},{"k":"L4","o":4,"x":0.469,"y":0.1545,"v":0.11},
{"k":"L5","o":1,"x":0.469,"y":0.155,"v":0.08},{"k":"L5","o":2,"x":0.485,"y":0.155,"v":0.08},{"k":"L5","o":3,"x":0.49,"y":0.1445,"v":0.08},{"k":"L5","o":4,"x":0.474,"y":0.1445,"v":0.08},
{"k":"L6","o":1,"x":0.474,"y":0.145,"v":0.055},{"k":"L6","o":2,"x":0.49,"y":0.145,"v":0.055},{"k":"L6","o":3,"x":0.4935,"y":0.1345,"v":0.055},{"k":"L6","o":4,"x":0.4775,"y":0.1345,"v":0.055},
{"k":"L7","o":1,"x":0.4775,"y":0.135,"v":0.04},{"k":"L7","o":2,"x":0.4935,"y":0.135,"v":0.04},{"k":"L7","o":3,"x":0.4957,"y":0.1245,"v":0.04},{"k":"L7","o":4,"x":0.4797,"y":0.1245,"v":0.04},
{"k":"L8","o":1,"x":0.4797,"y":0.125,"v":0.03},{"k":"L8","o":2,"x":0.4957,"y":0.125,"v":0.03},{"k":"L8","o":3,"x":0.4975,"y":0.1145,"v":0.03},{"k":"L8","o":4,"x":0.4815,"y":0.1145,"v":0.03},
{"k":"L9","o":1,"x":0.4815,"y":0.115,"v":0.025},{"k":"L9","o":2,"x":0.4975,"y":0.115,"v":0.025},{"k":"L9","o":3,"x":0.499,"y":0.1045,"v":0.025},{"k":"L9","o":4,"x":0.483,"y":0.1045,"v":0.025},
{"k":"L10","o":1,"x":0.483,"y":0.105,"v":0.015},{"k":"L10","o":2,"x":0.499,"y":0.105,"v":0.015},{"k":"L10","o":3,"x":0.4995,"y":0.0945,"v":0.015},{"k":"L10","o":4,"x":0.4835,"y":0.0945,"v":0.015},
{"k":"L11","o":1,"x":0.4835,"y":0.095,"v":0.01},{"k":"L11","o":2,"x":0.4995,"y":0.095,"v":0.01},{"k":"L11","o":3,"x":0.5,"y":0.0845,"v":0.01},{"k":"L11","o":4,"x":0.484,"y":0.0845,"v":0.01},
{"k":"L12","o":1,"x":0.484,"y":0.085,"v":0.011},{"k":"L12","o":2,"x":0.5,"y":0.085,"v":0.011},{"k":"L12","o":3,"x":0.5004,"y":0.0745,"v":0.011},{"k":"L12","o":4,"x":0.4844,"y":0.0745,"v":0.011},
{"k":"L13","o":1,"x":0.4844,"y":0.075,"v":0.012},{"k":"L13","o":2,"x":0.5004,"y":0.075,"v":0.012},{"k":"L13","o":3,"x":0.5005,"y":0.065,"v":0.012},{"k":"L13","o":4,"x":0.4845,"y":0.065,"v":0.012},
{"k":"R1","o":1,"x":0.4604,"y":0.195,"v":0.63},{"k":"R1","o":2,"x":0.4764,"y":0.195,"v":0.63},{"k":"R1","o":3,"x":0.48,"y":0.1845,"v":0.63},{"k":"R1","o":4,"x":0.464,"y":0.1845,"v":0.63},
{"k":"R2","o":1,"x":0.464,"y":0.185,"v":0.68},{"k":"R2","o":2,"x":0.48,"y":0.185,"v":0.68},{"k":"R2","o":3,"x":0.488,"y":0.1745,"v":0.68},{"k":"R2","o":4,"x":0.472,"y":0.1745,"v":0.68},
{"k":"R3","o":1,"x":0.472,"y":0.175,"v":0.73},{"k":"R3","o":2,"x":0.488,"y":0.175,"v":0.73},{"k":"R3","o":3,"x":0.4955,"y":0.1645,"v":0.73},{"k":"R3","o":4,"x":0.4795,"y":0.1645,"v":0.73},
{"k":"R4","o":1,"x":0.4795,"y":0.165,"v":0.77},{"k":"R4","o":2,"x":0.4955,"y":0.165,"v":0.77},{"k":"R4","o":3,"x":0.501,"y":0.1545,"v":0.77},{"k":"R4","o":4,"x":0.485,"y":0.1545,"v":0.77},
{"k":"R5","o":1,"x":0.485,"y":0.155,"v":0.81},{"k":"R5","o":2,"x":0.501,"y":0.155,"v":0.81},{"k":"R5","o":3,"x":0.506,"y":0.1445,"v":0.81},{"k":"R5","o":4,"x":0.49,"y":0.1445,"v":0.81},
{"k":"R6","o":1,"x":0.49,"y":0.145,"v":0.86},{"k":"R6","o":2,"x":0.506,"y":0.145,"v":0.86},{"k":"R6","o":3,"x":0.5095,"y":0.1345,"v":0.86},{"k":"R6","o":4,"x":0.4935,"y":0.1345,"v":0.86},
{"k":"R7","o":1,"x":0.4935,"y":0.135,"v":0.88},{"k":"R7","o":2,"x":0.5095,"y":0.135,"v":0.88},{"k":"R7","o":3,"x":0.5117,"y":0.1245,"v":0.88},{"k":"R7","o":4,"x":0.4957,"y":0.1245,"v":0.88},
{"k":"R8","o":1,"x":0.4957,"y":0.125,"v":0.9},{"k":"R8","o":2,"x":0.5117,"y":0.125,"v":0.9},{"k":"R8","o":3,"x":0.5135,"y":0.1145,"v":0.9},{"k":"R8","o":4,"x":0.4975,"y":0.1145,"v":0.9},
{"k":"R9","o":1,"x":0.4975,"y":0.115,"v":0.93},{"k":"R9","o":2,"x":0.5135,"y":0.115,"v":0.93},{"k":"R9","o":3,"x":0.515,"y":0.1045,"v":0.93},{"k":"R9","o":4,"x":0.499,"y":0.1045,"v":0.93},
{"k":"R10","o":1,"x":0.499,"y":0.105,"v":0.95},{"k":"R10","o":2,"x":0.515,"y":0.105,"v":0.95},{"k":"R10","o":3,"x":0.5155,"y":0.0945,"v":0.95},{"k":"R10","o":4,"x":0.4995,"y":0.0945,"v":0.95},
{"k":"R11","o":1,"x":0.4995,"y":0.095,"v":0.96},{"k":"R11","o":2,"x":0.5155,"y":0.095,"v":0.96},{"k":"R11","o":3,"x":0.516,"y":0.0845,"v":0.96},{"k":"R11","o":4,"x":0.5,"y":0.0845,"v":0.96},
{"k":"R12","o":1,"x":0.5,"y":0.085,"v":0.97},{"k":"R12","o":2,"x":0.516,"y":0.085,"v":0.97},{"k":"R12","o":3,"x":0.5164,"y":0.0745,"v":0.97},{"k":"R12","o":4,"x":0.5004,"y":0.0745,"v":0.97},
{"k":"R13","o":1,"x":0.5004,"y":0.075,"v":0.97},{"k":"R13","o":2,"x":0.5164,"y":0.075,"v":0.97},{"k":"R13","o":3,"x":0.5165,"y":0.065,"v":0.97},{"k":"R13","o":4,"x":0.5005,"y":0.065,"v":0.97}
],
"contours":[
{"k":"a","o":1,"x":0.133,"y":0.35},{"k":"a","o":2,"x":0.134,"y":0.3294},{"k":"a","o":3,"x":0.151,"y":0.3027},{"k":"a","o":4,"x":0.205,"y":0.2761},{"k":"a","o":5,"x":0.257,"y":0.2521},{"k":"a","o":6,"x":0.307,"y":0.2295},{"k":"a","o":7,"x":0.354,"y":0.2108},{"k":"a","o":8,"x":0.378,"y":0.2009},{"k":"a","o":9,"x":0.449,"y":0.1702},{"k":"a","o":10,"x":0.466,"y":0.1689},
{"k":"b","o":1,"x":0.2555,"y":0.35},{"k":"b","o":2,"x":0.252,"y":0.316},{"k":"b","o":3,"x":0.258,"y":0.3},{"k":"b","o":4,"x":0.2756,"y":0.2828},{"k":"b","o":5,"x":0.3073,"y":0.2674},{"k":"b","o":6,"x":0.3391,"y":0.2495},{"k":"b","o":7,"x":0.378,"y":0.2275},{"k":"b","o":8,"x":0.3933,"y":0.2208},{"k":"b","o":9,"x":0.4133,"y":0.2095},{"k":"b","o":10,"x":0.4369,"y":0.1942},{"k":"b","o":11,"x":0.4522,"y":0.1856},{"k":"b","o":12,"x":0.4687,"y":0.1696},
{"k":"c","o":1,"x":0.3721,"y":0.35},{"k":"c","o":2,"x":0.358,"y":0.332},{"k":"c","o":3,"x":0.3486,"y":0.3054},{"k":"c","o":4,"x":0.3486,"y":0.2828},{"k":"c","o":5,"x":0.358,"y":0.2655},{"k":"c","o":6,"x":0.378,"y":0.2495},{"k":"c","o":7,"x":0.398,"y":0.2342},{"k":"c","o":8,"x":0.4216,"y":0.2208},{"k":"c","o":9,"x":0.4404,"y":0.2009},{"k":"c","o":10,"x":0.4604,"y":0.1822},{"k":"c","o":11,"x":0.4699,"y":0.1676},
{"k":"d","o":1,"x":0.4793,"y":0.35},{"k":"d","o":2,"x":0.4522,"y":0.3187},{"k":"d","o":3,"x":0.4286,"y":0.2894},{"k":"d","o":4,"x":0.411,"y":0.2561},{"k":"d","o":5,"x":0.4133,"y":0.2455},{"k":"d","o":6,"x":0.4251,"y":0.2295},{"k":"d","o":7,"x":0.4334,"y":0.2162},{"k":"d","o":8,"x":0.4487,"y":0.1989},{"k":"d","o":9,"x":0.4687,"y":0.1789},{"k":"d","o":10,"x":0.4722,"y":0.1676},
{"k":"e","o":1,"x":0.5876,"y":0.35},{"k":"e","o":2,"x":0.5429,"y":0.314},{"k":"e","o":3,"x":0.4993,"y":0.2788},{"k":"e","o":4,"x":0.464,"y":0.2455},{"k":"e","o":5,"x":0.451,"y":0.2229},{"k":"e","o":6,"x":0.451,"y":0.2075},{"k":"e","o":7,"x":0.4569,"y":0.1942},{"k":"e","o":8,"x":0.464,"y":0.1909},
{"k":"f","o":1,"x":0.65,"y":0.3174},{"k":"f","o":2,"x":0.5864,"y":0.2874},{"k":"f","o":3,"x":0.5346,"y":0.2495},{"k":"f","o":4,"x":0.4958,"y":0.2228},{"k":"f","o":5,"x":0.4722,"y":0.1989},{"k":"f","o":6,"x":0.4628,"y":0.1909},
{"k":"g","o":1,"x":0.65,"y":0.2621},{"k":"g","o":2,"x":0.5864,"y":0.2361},{"k":"g","o":3,"x":0.5393,"y":0.2075},{"k":"g","o":4,"x":0.4958,"y":0.1829},{"k":"g","o":5,"x":0.4805,"y":0.1722},{"k":"g","o":6,"x":0.4722,"y":0.1696},
{"k":"h","o":1,"x":0.65,"y":0.2175},{"k":"h","o":2,"x":0.5629,"y":0.1855},{"k":"h","o":3,"x":0.4993,"y":0.1608},{"k":"h","o":4,"x":0.49,"y":0.1528},{"k":"h","o":5,"x":0.484,"y":0.146},
{"k":"i","o":1,"x":0.65,"y":0.1728},{"k":"i","o":2,"x":0.5193,"y":0.1336},{"k":"i","o":3,"x":0.5111,"y":0.1376},{"k":"i","o":4,"x":0.4981,"y":0.1376},{"k":"i","o":5,"x":0.4934,"y":0.1329},
{"k":"j","o":1,"x":0.4946,"y":0.1296},{"k":"j","o":2,"x":0.5099,"y":0.1296},{"k":"j","o":3,"x":0.5099,"y":0.1196},{"k":"j","o":4,"x":0.504,"y":0.113}
],
"blobs":[
{"k":"a","o":1,"x":0.4911,"y":0.1255},{"k":"a","o":2,"x":0.4911,"y":0.1162},
{"k":"b","o":1,"x":0.5017,"y":0.1262},{"k":"b","o":2,"x":0.5017,"y":0.1156},
{"k":"c","o":1,"x":0.5122,"y":0.1056},{"k":"c","o":2,"x":0.5122,"y":0.0923},
{"k":"d","o":1,"x":0.5134,"y":0.0809},{"k":"d","o":2,"x":0.5134,"y":0.0696},
{"k":"e","o":1,"x":0.4946,"y":0.0763},{"k":"e","o":2,"x":0.4946,"y":0.0696},
{"k":"f","o":1,"x":0.4993,"y":0.1056},{"k":"f","o":2,"x":0.4993,"y":0.0967},
{"k":"g","o":1,"x":0.4781,"y":0.1595},{"k":"g","o":2,"x":0.4863,"y":0.1422}
],
"spots":[{"x":0.5122,"y":0.099,"v":0},{"x":0.4899,"y":0.1142,"v":0.2},{"x":0.4863,"y":0.0703,"v":0.2},{"x":0.5017,"y":0.1196,"v":0.6},{"x":0.4946,"y":0.0723,"v":0.45},{"x":0.5134,"y":0.0743,"v":0.6},{"x":0.5122,"y":0.0875,"v":0.75},{"x":0.5122,"y":0.11,"v":0.75}],
"solid":[{"o":1,"x":0.43,"y":0.2195},{"o":2,"x":0.4345,"y":0.2175},{"o":3,"x":0.4487,"y":0.2029},{"o":4,"x":0.464,"y":0.1856},{"o":5,"x":0.478,"y":0.1676},{"o":6,"x":0.49,"y":0.1456},{"o":7,"x":0.4957,"y":0.1256},{"o":8,"x":0.4993,"y":0.103},{"o":9,"x":0.5005,"y":0.0697}],
"dashed":[{"o":1,"x":0,"y":0.3127},{"o":2,"x":0.04,"y":0.3122},{"o":3,"x":0.08,"y":0.31},{"o":4,"x":0.146,"y":0.3047},{"o":5,"x":0.205,"y":0.298},{"o":6,"x":0.2567,"y":0.286},{"o":7,"x":0.3073,"y":0.2728},{"o":8,"x":0.3627,"y":0.2541},{"o":9,"x":0.3933,"y":0.2388}],
"labels":[{"x":-0.1696,"y":0.2089,"t":"T/m"},{"x":0.2862,"y":0.0272,"t":"μ"},{"x":0.3168,"y":0.0272,"t":"/m"}],
"subs":[{"x":-0.1225,"y":0.2042,"t":"B"},{"x":0.3026,"y":0.0222,"t":"B"},{"x":0.3497,"y":0.0222,"t":"B"}],
"bar":[{"v":0.01},{"v":0.03},{"v":0.05},{"v":0.07},{"v":0.09},{"v":0.11},{"v":0.13},{"v":0.15},{"v":0.17},{"v":0.19},{"v":0.21},{"v":0.23},{"v":0.25},{"v":0.27},{"v":0.29},{"v":0.31},{"v":0.33},{"v":0.35},{"v":0.37},{"v":0.39},{"v":0.41},{"v":0.43},{"v":0.45},{"v":0.47},{"v":0.49},{"v":0.51},{"v":0.53},{"v":0.55},{"v":0.57},{"v":0.59},{"v":0.61},{"v":0.63},{"v":0.65},{"v":0.67},{"v":0.69},{"v":0.71},{"v":0.73},{"v":0.75},{"v":0.77},{"v":0.79},{"v":0.81},{"v":0.83},{"v":0.85},{"v":0.87},{"v":0.89},{"v":0.91},{"v":0.93},{"v":0.95},{"v":0.97},{"v":0.99}]
},
"hconcat":[
{"width":552,"height":428,
"title":{"text":"Baryon Density","font":"Liberation Sans","fontSize":23.7,"fontWeight":"normal","color":"#111","anchor":"middle","offset":11},
"view":{"stroke":"#333","strokeWidth":1.5},
"encoding":{
"x":{"field":"x","type":"quantitative","title":null,"scale":{"domain":[0,0.65],"nice":false,"zero":false},"axis":{"values":[0,0.1,0.2,0.3,0.4,0.5,0.6],"format":"~g","ticks":false,"domain":false,"grid":false,"labelFont":"Liberation Sans","labelFontSize":23,"labelColor":"#111","labelPadding":14}},
"y":{"field":"y","type":"quantitative","title":null,"scale":{"domain":[0.065,0.35],"nice":false,"zero":false},"axis":{"values":[0.1,0.15,0.2,0.25,0.3,0.35],"format":"~g","ticks":false,"domain":false,"grid":false,"labelFont":"Liberation Sans","labelFontSize":23,"labelColor":"#111","labelPadding":16}}
},
"layer":[
{"data":{"name":"cells"},"mark":{"type":"rect","width":17.05,"height":15.1,"clip":true,"xOffset":-6.4,"yOffset":-5.6,"opacity":1},"encoding":{"color":{"field":"v","type":"quantitative","legend":null,"scale":{"domain":[0,0.1,0.2,0.3,0.4,0.5,0.6,0.7,0.8,0.85,0.95,1],"range":["#ffffff","#8888ff","#0000ff","#0090ff","#00ffff","#00ff70","#00ff00","#98c800","#d8a800","#ff9000","#ff2000","#ff0000"]}}}},
{"data":{"name":"cells"},"mark":{"type":"rect","width":17.05,"height":15.1,"clip":true,"xOffset":2.1,"yOffset":1.9,"opacity":0.5},"encoding":{"color":{"field":"v","type":"quantitative","legend":null}}},
{"data":{"name":"cells"},"mark":{"type":"rect","width":17.05,"height":15.1,"clip":true,"xOffset":-2.1,"yOffset":5.6,"opacity":0.3333},"encoding":{"color":{"field":"v","type":"quantitative","legend":null}}},
{"data":{"name":"cells"},"mark":{"type":"rect","width":17.05,"height":15.1,"clip":true,"xOffset":6.4,"yOffset":-1.9,"opacity":0.25},"encoding":{"color":{"field":"v","type":"quantitative","legend":null}}},
{"data":{"name":"cells"},"mark":{"type":"rect","width":17.05,"height":15.1,"clip":true,"xOffset":-6.4,"yOffset":1.9,"opacity":0.2},"encoding":{"color":{"field":"v","type":"quantitative","legend":null}}},
{"data":{"name":"cells"},"mark":{"type":"rect","width":17.05,"height":15.1,"clip":true,"xOffset":2.1,"yOffset":-5.6,"opacity":0.1667},"encoding":{"color":{"field":"v","type":"quantitative","legend":null}}},
{"data":{"name":"cells"},"mark":{"type":"rect","width":17.05,"height":15.1,"clip":true,"xOffset":-2.1,"yOffset":-1.9,"opacity":0.1429},"encoding":{"color":{"field":"v","type":"quantitative","legend":null}}},
{"data":{"name":"cells"},"mark":{"type":"rect","width":17.05,"height":15.1,"clip":true,"xOffset":6.4,"yOffset":5.6,"opacity":0.125},"encoding":{"color":{"field":"v","type":"quantitative","legend":null}}},
{"data":{"name":"cells"},"mark":{"type":"rect","width":17.05,"height":15.1,"clip":true,"xOffset":-6.4,"yOffset":5.6,"opacity":0.1111},"encoding":{"color":{"field":"v","type":"quantitative","legend":null}}},
{"data":{"name":"cells"},"mark":{"type":"rect","width":17.05,"height":15.1,"clip":true,"xOffset":2.1,"yOffset":-1.9,"opacity":0.1},"encoding":{"color":{"field":"v","type":"quantitative","legend":null}}},
{"data":{"name":"cells"},"mark":{"type":"rect","width":17.05,"height":15.1,"clip":true,"xOffset":-2.1,"yOffset":-5.6,"opacity":0.0909},"encoding":{"color":{"field":"v","type":"quantitative","legend":null}}},
{"data":{"name":"cells"},"mark":{"type":"rect","width":17.05,"height":15.1,"clip":true,"xOffset":6.4,"yOffset":1.9,"opacity":0.0833},"encoding":{"color":{"field":"v","type":"quantitative","legend":null}}},
{"data":{"name":"cells"},"mark":{"type":"rect","width":17.05,"height":15.1,"clip":true,"xOffset":-6.4,"yOffset":-1.9,"opacity":0.0769},"encoding":{"color":{"field":"v","type":"quantitative","legend":null}}},
{"data":{"name":"cells"},"mark":{"type":"rect","width":17.05,"height":15.1,"clip":true,"xOffset":2.1,"yOffset":5.6,"opacity":0.0714},"encoding":{"color":{"field":"v","type":"quantitative","legend":null}}},
{"data":{"name":"cells"},"mark":{"type":"rect","width":17.05,"height":15.1,"clip":true,"xOffset":-2.1,"yOffset":1.9,"opacity":0.0667},"encoding":{"color":{"field":"v","type":"quantitative","legend":null}}},
{"data":{"name":"cells"},"mark":{"type":"rect","width":17.05,"height":15.1,"clip":true,"xOffset":6.4,"yOffset":-5.6,"opacity":0.0625},"encoding":{"color":{"field":"v","type":"quantitative","legend":null}}},
{"data":{"name":"strips"},"mark":{"type":"line","filled":true,"strokeWidth":0,"clip":true},"encoding":{"detail":{"field":"k"},"order":{"field":"o"},"color":{"field":"v","type":"quantitative","legend":null}}},
{"data":{"name":"blobs"},"mark":{"type":"line","color":"#a0a0a0","strokeWidth":8,"strokeCap":"round","clip":true},"encoding":{"detail":{"field":"k"},"order":{"field":"o"}}},
{"data":{"name":"spots"},"mark":{"type":"circle","size":14,"opacity":1},"encoding":{"color":{"field":"v","type":"quantitative","legend":null}}},
{"data":{"name":"contours"},"mark":{"type":"line","color":"#999999","strokeWidth":1.2,"clip":true,"interpolate":"catmull-rom"},"encoding":{"detail":{"field":"k"},"order":{"field":"o"}}},
{"data":{"name":"solid"},"mark":{"type":"line","color":"#000","strokeWidth":2,"interpolate":"monotone"},"encoding":{"order":{"field":"o"}}},
{"data":{"name":"dashed"},"mark":{"type":"line","color":"#000","strokeWidth":1.8,"strokeDash":[6,9],"interpolate":"catmull-rom"},"encoding":{"order":{"field":"o"}}},
{"data":{"values":[{"x":0.4216,"y":0.2195}]},"mark":{"type":"point","shape":"M-1 0H1M-1 -.3V.3M1 -.3V.3M0 -.9V.9M-.3 -.9H.3M-.3 .9H.3M-.6 -.6H.6V.6H-.6Z","size":400,"filled":false,"stroke":"#000","strokeWidth":1.3,"opacity":0.9}},
{"data":{"name":"labels"},"mark":{"type":"text","align":"left","baseline":"middle","font":"Liberation Sans","fontSize":23,"color":"#111"},"encoding":{"text":{"field":"t"}}},
{"data":{"name":"subs"},"mark":{"type":"text","align":"left","baseline":"middle","font":"Liberation Sans","fontSize":15,"color":"#111"},"encoding":{"text":{"field":"t"}}}
]},
{"width":27,"height":428,"view":{"stroke":"#333","strokeWidth":1},
"data":{"name":"bar"},
"mark":{"type":"rect","height":9},
"encoding":{
"y":{"field":"v","type":"quantitative","title":null,"scale":{"domain":[0,1],"nice":false,"zero":false},"axis":{"orient":"right","values":[0,0.2,0.4,0.6,0.8,1],"format":"~g","ticks":false,"domain":false,"grid":true,"gridDash":[9,9],"gridColor":"#333","gridOpacity":0.8,"zindex":1,"labelFont":"Liberation Sans","labelFontSize":23,"labelColor":"#111","labelPadding":22}},
"color":{"field":"v","type":"quantitative","legend":null}
}}
],
"resolve":{"scale":{"color":"shared","x":"independent","y":"independent"}}}
